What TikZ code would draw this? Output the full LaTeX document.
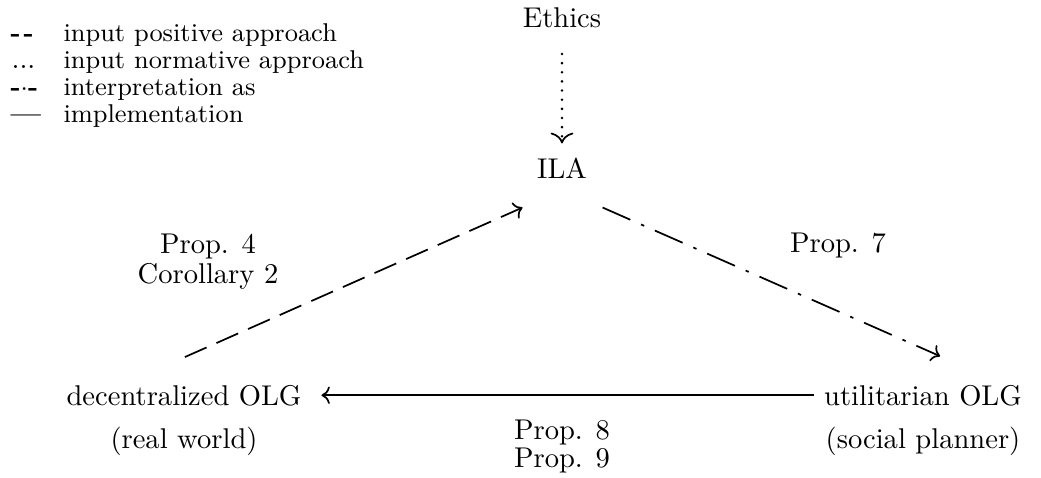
\documentclass[tikz,border=0pt]{standalone}
\usetikzlibrary{arrows.meta}
\begin{document}
\begin{tikzpicture}[x=0.35pt,y=-0.35pt,
  lbl/.style={anchor=base,inner sep=0pt},
  olg/.style={anchor=base},
  legsym/.style={anchor=base west,inner sep=0pt,font=\small\bfseries},
  legtxt/.style={anchor=base west,inner sep=0pt,font=\small},
  conn/.style={line width=0.6pt,->},
  posi/.style={conn,dash pattern=on 8.3pt off 3.8pt},
  norm/.style={line width=1pt,-{To[line width=0.6pt]},dash pattern=on 0pt off 3.2pt,line cap=round},
  interp/.style={conn,dash pattern=on 10.6pt off 4.1pt on 1.2pt off 4.1pt},
  impl/.style={conn}]
\useasboundingbox (0,0) rectangle (1041,478);
% legend
\node[legsym] (s1) at (10,41) {-\kern1pt-};
\node[legtxt] (t1) at (63,41) {input positive approach};
\node[legsym] (s2) at (11,68) {\mdseries\normalsize...};
\node[legtxt] (t2) at (63,68) {input normative approach};
\node[legsym] (s3) at (10,95) {-{$\cdot$}-};
\node[legtxt] (t3) at (63,95) {interpretation as};
\node[legsym] (s4) at (10,122) {---};
\node[legtxt] (t4) at (63,122) {implementation};
% main nodes
\node[olg] (ethics) at (562,27) {Ethics};
\node[olg] (ila) at (562,178) {ILA};
\node[olg] (dec) at (184,405) {decentralized OLG};
\node[lbl] (decrw) at (184,448) {(real world)};
\node[olg] (uti) at (923,405) {utilitarian OLG};
\node[lbl] (utisp) at (923,448) {(social planner)};
% labels
\node[lbl] (p4) at (208,253) {Prop. 4};
\node[lbl] (c2) at (208,283) {Corollary 2};
\node[lbl] (p7) at (838,252) {Prop. 7};
\node[lbl] (p8) at (562,439) {Prop. 8};
\node[lbl] (p9) at (562,467) {Prop. 9};
% connectors
\draw[norm,shorten <=5.8pt,shorten >=1.4pt] (ethics.south) -- (ila.north);
\draw[posi] ([xshift=0.3pt,yshift=6.2pt]dec.north) -- ([xshift=-1.6pt,yshift=-6.8pt]ila.south west);
\draw[interp] ([xshift=2pt,yshift=-6.8pt]ila.south east) -- ([xshift=6pt,yshift=6.5pt]uti.north);
\draw[impl,shorten >=3.5pt] (uti.west) -- (dec.east);
\end{tikzpicture}
\end{document}
